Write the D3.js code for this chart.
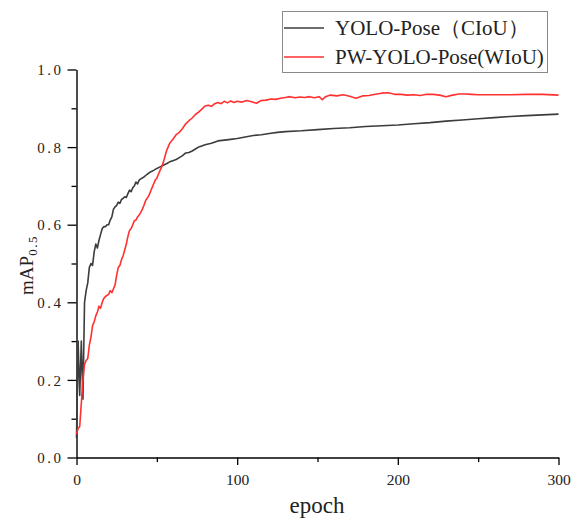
<!DOCTYPE html>
<html>
<head>
<meta charset="utf-8">
<script src="https://cdn.jsdelivr.net/npm/d3@7"></script>
<style>
  html, body { margin: 0; padding: 0; background: #fff; }
  svg { display: block; }
</style>
</head>
<body>
<svg id="chart" width="572" height="519"></svg>
<script>
const seriesNames = ["YOLO-Pose（CIoU）", "PW-YOLO-Pose(WIoU)"];

const ciouEpochs = [0,1,2,3,4,5,6,7,8,9,10,11,12,13,14,15,16,17,18,19,20,21,22,23,24,25,26,27,28,29,30,31,32,33,34,35,36,37,38,39,40,42,44,46,48,50,52,54,56,58,60,62,64,66,68,70,72,74,76,78,80,84,88,92,96,100,105,110,115,120,125,130,140,150,160,170,180,190,200,210,220,230,240,250,260,270,280,290,300];
const ciouValues = [0.05,0.30,0.16,0.30,0.15,0.40,0.43,0.45,0.49,0.50,0.495,0.53,0.55,0.54,0.56,0.575,0.59,0.595,0.595,0.60,0.60,0.612,0.62,0.64,0.646,0.65,0.658,0.655,0.665,0.668,0.672,0.67,0.68,0.689,0.685,0.695,0.70,0.71,0.705,0.715,0.718,0.723,0.73,0.736,0.74,0.745,0.749,0.753,0.757,0.762,0.765,0.768,0.773,0.778,0.785,0.786,0.79,0.795,0.80,0.803,0.806,0.81,0.816,0.818,0.82,0.822,0.826,0.83,0.832,0.835,0.838,0.84,0.842,0.845,0.848,0.85,0.853,0.855,0.857,0.86,0.863,0.867,0.87,0.873,0.876,0.879,0.881,0.883,0.885];

const wiouEpochs = [0,1,2,3,4,5,6,7,8,9,10,11,12,13,14,15,16,17,18,19,20,21,22,23,24,25,26,27,28,29,30,31,32,33,34,35,36,37,38,39,40,41,42,43,44,45,46,47,48,49,50,51,52,53,54,55,56,57,58,59,60,62,64,66,68,70,72,74,76,78,80,82,84,86,88,90,92,94,96,98,100,103,106,109,112,115,118,121,124,127,130,133,136,139,142,145,148,151,153,155,158,162,166,170,174,178,182,186,190,194,198,202,206,210,214,218,222,226,230,234,238,242,246,250,260,270,280,290,300];
const wiouValues = [0.06,0.075,0.08,0.14,0.20,0.24,0.25,0.255,0.29,0.31,0.34,0.35,0.365,0.375,0.39,0.385,0.40,0.41,0.415,0.418,0.42,0.43,0.425,0.435,0.445,0.47,0.49,0.495,0.51,0.52,0.535,0.55,0.57,0.585,0.59,0.60,0.61,0.612,0.62,0.625,0.632,0.64,0.65,0.662,0.668,0.675,0.685,0.695,0.705,0.715,0.72,0.73,0.74,0.749,0.76,0.775,0.79,0.80,0.81,0.815,0.82,0.832,0.838,0.848,0.86,0.868,0.875,0.884,0.89,0.898,0.906,0.908,0.905,0.912,0.915,0.912,0.918,0.914,0.919,0.915,0.918,0.916,0.92,0.917,0.913,0.92,0.921,0.924,0.923,0.926,0.928,0.93,0.927,0.929,0.928,0.93,0.927,0.93,0.922,0.93,0.934,0.932,0.935,0.931,0.926,0.932,0.933,0.936,0.939,0.94,0.936,0.936,0.934,0.935,0.933,0.936,0.936,0.934,0.93,0.934,0.937,0.937,0.936,0.935,0.935,0.935,0.936,0.936,0.934];

const xMajorTicks = [0, 100, 200, 300];
const xMinorTicks = [50, 150, 250];
const yMajorTicks = [0.0, 0.2, 0.4, 0.6, 0.8, 1.0];
const yMinorTicks = [0.1, 0.3, 0.5, 0.7, 0.9];
const xTitle = "epoch";

const svg = d3.select("#chart");
const x = d3.scaleLinear().domain([0, 300]).range([76.5, 558.5]);
const y = d3.scaleLinear().domain([0, 1]).range([457.5, 69.5]);

const serif = "'Liberation Serif', 'DejaVu Serif', serif";

// minor ticks
svg.append("g").attr("transform", "translate(0,457.5)")
  .call(d3.axisBottom(x).tickValues(xMinorTicks).tickSize(4.5).tickFormat(""))
  .call(g => g.select(".domain").remove())
  .selectAll("line").attr("stroke", "#000").attr("stroke-width", 1.3);
svg.append("g").attr("transform", "translate(76.5,0)")
  .call(d3.axisLeft(y).tickValues(yMinorTicks).tickSize(5).tickFormat(""))
  .call(g => g.select(".domain").remove())
  .selectAll("line").attr("stroke", "#000").attr("stroke-width", 1.3);

// major x axis
const gx = svg.append("g").attr("transform", "translate(0,457.5)")
  .call(d3.axisBottom(x).tickValues(xMajorTicks).tickSize(7.5).tickSizeOuter(0).tickFormat(d3.format("d")));
gx.select(".domain").attr("stroke", "#000").attr("stroke-width", 1.4);
gx.selectAll("line").attr("stroke", "#000").attr("stroke-width", 1.3);
gx.selectAll("text").attr("y", 16.5).attr("dy", "0.71em")
  .attr("font-family", serif).attr("font-size", 15.5).attr("fill", "#222");

// major y axis
const gy = svg.append("g").attr("transform", "translate(76.5,0)")
  .call(d3.axisLeft(y).tickValues(yMajorTicks).tickSize(9).tickSizeOuter(0).tickFormat(d3.format(".1f")));
gy.select(".domain").attr("stroke", "#000").attr("stroke-width", 1.4);
gy.selectAll("line").attr("stroke", "#000").attr("stroke-width", 1.3);
gy.selectAll("text").attr("x", -13).attr("dy", "0.34em")
  .attr("font-family", serif).attr("font-size", 15).attr("fill", "#222")
  .attr("letter-spacing", "2.5px");

// lines
const line = d3.line().x(d => x(d[0])).y(d => y(d[1]));
const ciouData = ciouEpochs.map((e, i) => [e, ciouValues[i]]);
const wiouData = wiouEpochs.map((e, i) => [e, wiouValues[i]]);
const colors = ["#3c3c3c", "#ff3030"];

svg.append("path").datum(ciouData).attr("d", line)
  .attr("fill", "none").attr("stroke", colors[0]).attr("stroke-width", 1.6).attr("stroke-linejoin", "round");
svg.append("path").datum(wiouData).attr("d", line)
  .attr("fill", "none").attr("stroke", colors[1]).attr("stroke-width", 1.6).attr("stroke-linejoin", "round");

// x title
svg.append("text").attr("x", 317).attr("y", 513).attr("text-anchor", "middle")
  .attr("font-family", serif).attr("font-size", 23).attr("fill", "#222").text(xTitle);

// y title
const yt = svg.append("text")
  .attr("transform", "translate(33,265) rotate(-90)")
  .attr("text-anchor", "middle")
  .attr("font-family", serif).attr("font-size", 19).attr("fill", "#222");
yt.append("tspan").text("mAP");
yt.append("tspan").attr("dy", 4).attr("font-size", 13).attr("letter-spacing", "1.5px").text("0.5");

// legend
svg.append("rect").attr("x", 282.5).attr("y", 11.5).attr("width", 265).attr("height", 61)
  .attr("fill", "#fff").attr("stroke", "#8a8a8a").attr("stroke-width", 1);
const legendRows = [28, 57];
seriesNames.forEach((name, i) => {
  svg.append("line").attr("x1", 284).attr("x2", 324)
    .attr("y1", legendRows[i]).attr("y2", legendRows[i])
    .attr("stroke", colors[i]).attr("stroke-width", 1.5);
  svg.append("text").attr("x", 335).attr("y", legendRows[i] + 7)
    .attr("font-family", serif).attr("font-size", 21).attr("fill", "#222").text(name);
});
</script>
</body>
</html>
